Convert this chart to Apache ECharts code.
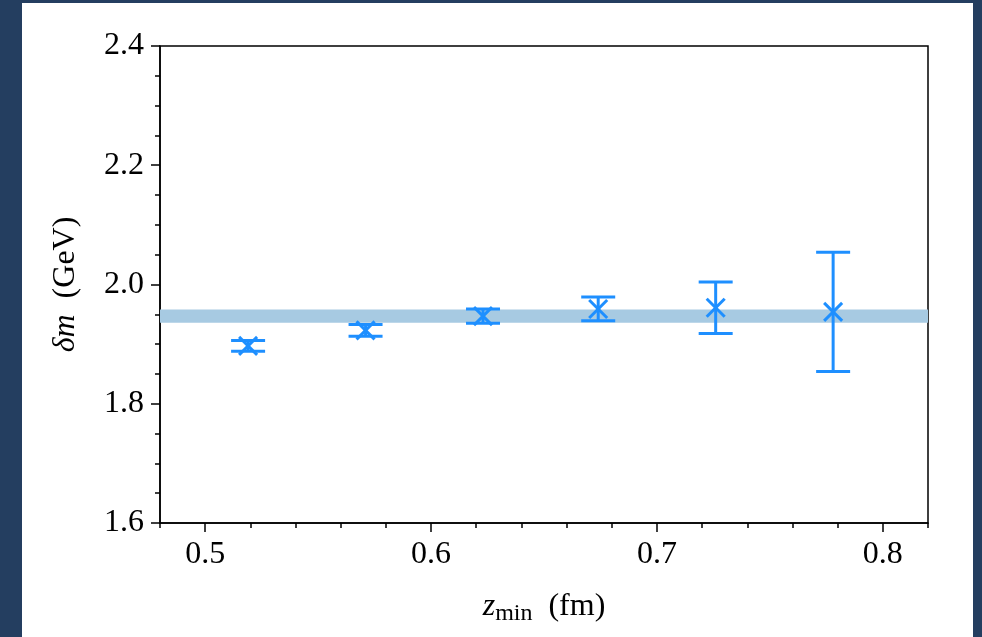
<!DOCTYPE html>
<html>
<head>
<meta charset="utf-8">
<script src="https://cdn.jsdelivr.net/npm/echarts@6/dist/echarts.min.js"></script>
<style>
  html, body { margin: 0; padding: 0; background: #243e60; width: 982px; height: 637px; overflow: hidden; }
  #chart { position: absolute; left: 22px; top: 3px; width: 951px; height: 634px; background: #ffffff; }
</style>
</head>
<body>
<div id="chart"></div>
<script>
// ---- data ----
const zMin = [0.519, 0.571, 0.623, 0.674, 0.726, 0.778];
const deltaM = [1.897, 1.923, 1.947, 1.959, 1.961, 1.954];
const deltaMErr = [0.009, 0.010, 0.012, 0.020, 0.043, 0.100];
const bandLow = 1.936;
const bandHigh = 1.958;
const xMajorLabels = ['0.5', '0.6', '0.7', '0.8'];
const yTickLabels = ['1.6', '1.8', '2.0', '2.2', '2.4'];
const xMinorCats = ['0.48', '0.5', '0.52', '0.54', '0.56', '0.58', '0.6', '0.62', '0.64', '0.66', '0.68', '0.7', '0.72', '0.74', '0.76', '0.78', '0.8', '0.82'];

const FONT = 'Liberation Serif';
const BLUE = '#1e8fff';
const chart = echarts.init(document.getElementById('chart'), null, { renderer: 'canvas' });

const isMajor = (idx, val) => xMajorLabels.indexOf(String(val)) >= 0;

const pts = zMin.map((x, i) => [x, deltaM[i], deltaMErr[i]]);

const option = {
  animation: false,
  backgroundColor: '#ffffff',
  grid: { left: 138, top: 43, right: 45, bottom: 114, show: true, borderColor: '#000', borderWidth: 1.5, backgroundColor: 'transparent' },
  xAxis: [
    {
      type: 'value', min: 0.48, max: 0.82, interval: 0.02,
      axisLine: { show: true, lineStyle: { color: '#000', width: 1.5 } },
      axisTick: { show: true, length: 5, lineStyle: { color: '#000', width: 1.5 } },
      axisLabel: { show: false },
      splitLine: { show: false }
    },
    {
      type: 'category', data: xMinorCats, boundaryGap: false, position: 'bottom',
      axisLine: { show: false },
      axisTick: { show: true, length: 9, interval: isMajor, lineStyle: { color: '#000', width: 1.5 } },
      axisLabel: { show: true, interval: isMajor, margin: 16, fontFamily: FONT, fontSize: 32, color: '#000' },
      splitLine: { show: false },
      name: '{i|z}{s|min}{n|  (fm)}',
      nameLocation: 'middle',
      nameGap: 66,
      nameTextStyle: {
        rich: {
          i: { fontFamily: FONT, fontStyle: 'italic', fontSize: 32, color: '#000', lineHeight: 36 },
          s: { fontFamily: FONT, fontSize: 24, color: '#000', lineHeight: 36, padding: [14, 0, 0, 0] },
          n: { fontFamily: FONT, fontSize: 32, color: '#000', lineHeight: 36 }
        }
      }
    }
  ],
  yAxis: {
    type: 'value', min: 1.6, max: 2.4, interval: 0.2,
    axisLine: { show: true, lineStyle: { color: '#000', width: 1.5 } },
    axisTick: { show: true, length: 9, lineStyle: { color: '#000', width: 1.5 } },
    minorTick: { show: true, splitNumber: 4, length: 5, lineStyle: { color: '#000', width: 1.5 } },
    axisLabel: { margin: 16, fontFamily: FONT, fontSize: 32, color: '#000', formatter: v => yTickLabels[Math.round((v - 1.6) / 0.2)] },
    splitLine: { show: false },
    name: '{i|δm}{n|  (GeV)}',
    nameLocation: 'middle',
    nameRotate: 90,
    nameGap: 78,
    nameTextStyle: {
      rich: {
        i: { fontFamily: FONT, fontStyle: 'italic', fontSize: 32, color: '#000' },
        n: { fontFamily: FONT, fontSize: 32, color: '#000' }
      }
    }
  },
  series: [
    {
      type: 'line', data: [], xAxisIndex: 0, yAxisIndex: 0,
      markArea: {
        silent: true,
        itemStyle: { color: '#a7cae2', opacity: 1 },
        data: [[{ yAxis: bandLow }, { yAxis: bandHigh }]]
      }
    },
    {
      type: 'custom', xAxisIndex: 0, yAxisIndex: 0, data: pts, z: 5,
      renderItem: function (params, api) {
        const x = api.value(0), y = api.value(1), e = api.value(2);
        const c = api.coord([x, y]);
        const top = api.coord([x, y + e]);
        const bot = api.coord([x, y - e]);
        const cap = 17, mk = 9;
        const st = { stroke: BLUE, lineWidth: 3, fill: null };
        return {
          type: 'group',
          children: [
            { type: 'line', shape: { x1: c[0], y1: top[1], x2: c[0], y2: bot[1] }, style: st },
            { type: 'line', shape: { x1: c[0] - cap, y1: top[1], x2: c[0] + cap, y2: top[1] }, style: st },
            { type: 'line', shape: { x1: c[0] - cap, y1: bot[1], x2: c[0] + cap, y2: bot[1] }, style: st },
            { type: 'line', shape: { x1: c[0] - mk, y1: c[1] - mk, x2: c[0] + mk, y2: c[1] + mk }, style: st },
            { type: 'line', shape: { x1: c[0] - mk, y1: c[1] + mk, x2: c[0] + mk, y2: c[1] - mk }, style: st }
          ]
        };
      }
    }
  ]
};
chart.setOption(option);
</script>
</body>
</html>
